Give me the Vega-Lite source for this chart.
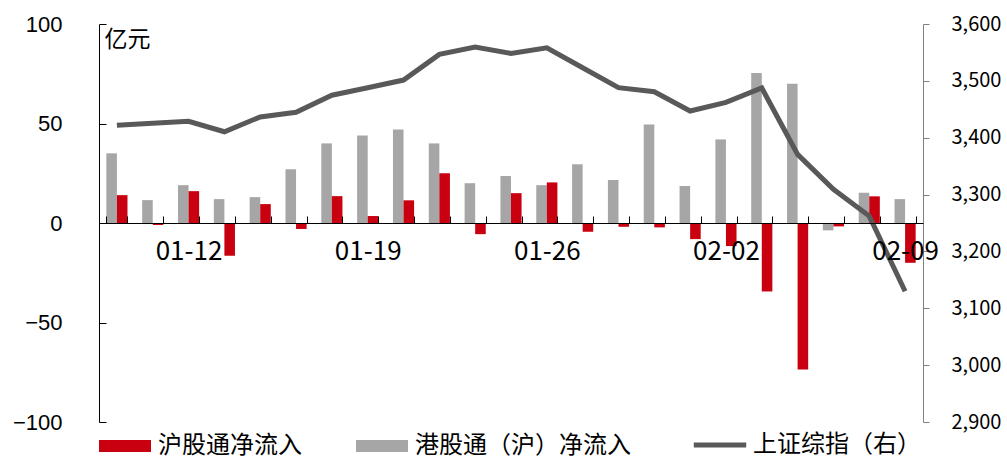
{
  "$schema": "https://vega.github.io/schema/vega-lite/v6.json",
  "width": 824,
  "height": 398,
  "autosize": {"type": "none"},
  "padding": {"left": 99, "top": 24, "right": 84, "bottom": 38},
  "background": "white",
  "config": {
    "view": {"stroke": null},
    "axis": {"grid": false},
    "font": "Liberation Sans"
  },
  "datasets": {
    "flows": [
      {"date": "01-10", "series": "港股通（沪）净流入", "value": 35},
      {"date": "01-10", "series": "沪股通净流入", "value": 14},
      {"date": "01-11", "series": "港股通（沪）净流入", "value": 11.5},
      {"date": "01-11", "series": "沪股通净流入", "value": -1},
      {"date": "01-12", "series": "港股通（沪）净流入", "value": 19},
      {"date": "01-12", "series": "沪股通净流入", "value": 16},
      {"date": "01-15", "series": "港股通（沪）净流入", "value": 12},
      {"date": "01-15", "series": "沪股通净流入", "value": -16.5},
      {"date": "01-16", "series": "港股通（沪）净流入", "value": 13},
      {"date": "01-16", "series": "沪股通净流入", "value": 9.5},
      {"date": "01-17", "series": "港股通（沪）净流入", "value": 27},
      {"date": "01-17", "series": "沪股通净流入", "value": -3},
      {"date": "01-18", "series": "港股通（沪）净流入", "value": 40},
      {"date": "01-18", "series": "沪股通净流入", "value": 13.5},
      {"date": "01-19", "series": "港股通（沪）净流入", "value": 44},
      {"date": "01-19", "series": "沪股通净流入", "value": 3.5},
      {"date": "01-22", "series": "港股通（沪）净流入", "value": 47},
      {"date": "01-22", "series": "沪股通净流入", "value": 11.4},
      {"date": "01-23", "series": "港股通（沪）净流入", "value": 40},
      {"date": "01-23", "series": "沪股通净流入", "value": 25},
      {"date": "01-24", "series": "港股通（沪）净流入", "value": 20},
      {"date": "01-24", "series": "沪股通净流入", "value": -5.6},
      {"date": "01-25", "series": "港股通（沪）净流入", "value": 23.6},
      {"date": "01-25", "series": "沪股通净流入", "value": 15},
      {"date": "01-26", "series": "港股通（沪）净流入", "value": 19},
      {"date": "01-26", "series": "沪股通净流入", "value": 20.4},
      {"date": "01-29", "series": "港股通（沪）净流入", "value": 29.5},
      {"date": "01-29", "series": "沪股通净流入", "value": -4.4},
      {"date": "01-30", "series": "港股通（沪）净流入", "value": 21.6},
      {"date": "01-30", "series": "沪股通净流入", "value": -1.9},
      {"date": "01-31", "series": "港股通（沪）净流入", "value": 49.5},
      {"date": "01-31", "series": "沪股通净流入", "value": -2.2},
      {"date": "02-01", "series": "港股通（沪）净流入", "value": 18.6},
      {"date": "02-01", "series": "沪股通净流入", "value": -8.1},
      {"date": "02-02", "series": "港股通（沪）净流入", "value": 42},
      {"date": "02-02", "series": "沪股通净流入", "value": -11.6},
      {"date": "02-05", "series": "港股通（沪）净流入", "value": 75.4},
      {"date": "02-05", "series": "沪股通净流入", "value": -34.4},
      {"date": "02-06", "series": "港股通（沪）净流入", "value": 70},
      {"date": "02-06", "series": "沪股通净流入", "value": -73.6},
      {"date": "02-07", "series": "港股通（沪）净流入", "value": -3.7},
      {"date": "02-07", "series": "沪股通净流入", "value": -1.7},
      {"date": "02-08", "series": "港股通（沪）净流入", "value": 15.2},
      {"date": "02-08", "series": "沪股通净流入", "value": 13.4},
      {"date": "02-09", "series": "港股通（沪）净流入", "value": 12},
      {"date": "02-09", "series": "沪股通净流入", "value": -20}
    ],
    "sse": [
      {"date": "01-10", "name": "上证综指（右）", "close": 3421.8},
      {"date": "01-11", "name": "上证综指（右）", "close": 3425.3},
      {"date": "01-12", "name": "上证综指（右）", "close": 3428.9},
      {"date": "01-15", "name": "上证综指（右）", "close": 3410.5},
      {"date": "01-16", "name": "上证综指（右）", "close": 3436.6},
      {"date": "01-17", "name": "上证综指（右）", "close": 3444.7},
      {"date": "01-18", "name": "上证综指（右）", "close": 3474.8},
      {"date": "01-19", "name": "上证综指（右）", "close": 3487.9},
      {"date": "01-22", "name": "上证综指（右）", "close": 3501.4},
      {"date": "01-23", "name": "上证综指（右）", "close": 3546.5},
      {"date": "01-24", "name": "上证综指（右）", "close": 3559.5},
      {"date": "01-25", "name": "上证综指（右）", "close": 3548.3},
      {"date": "01-26", "name": "上证综指（右）", "close": 3558.1},
      {"date": "01-29", "name": "上证综指（右）", "close": 3523.0},
      {"date": "01-30", "name": "上证综指（右）", "close": 3488.0},
      {"date": "01-31", "name": "上证综指（右）", "close": 3480.8},
      {"date": "02-01", "name": "上证综指（右）", "close": 3447.0},
      {"date": "02-02", "name": "上证综指（右）", "close": 3462.1},
      {"date": "02-05", "name": "上证综指（右）", "close": 3487.5},
      {"date": "02-06", "name": "上证综指（右）", "close": 3370.7},
      {"date": "02-07", "name": "上证综指（右）", "close": 3309.3},
      {"date": "02-08", "name": "上证综指（右）", "close": 3262.1},
      {"date": "02-09", "name": "上证综指（右）", "close": 3129.9}
    ]
  },
  "layer": [
    {
      "data": {"name": "flows"},
      "mark": {"type": "bar"},
      "encoding": {
        "x": {
          "field": "date",
          "type": "ordinal",
          "sort": null,
          "scale": {"paddingInner": 0.41, "paddingOuter": 0.205},
          "axis": {
            "orient": "bottom",
            "offset": -199,
            "zindex": 1,
            "title": null,
            "domainColor": "#000000",
            "domainWidth": 1,
            "tickColor": "#000000",
            "tickSize": -7,
            "tickBand": "extent",
            "labelAngle": 0,
            "labelExpr": "(datum.value == '01-12' || datum.value == '01-19' || datum.value == '01-26' || datum.value == '02-02' || datum.value == '02-09') ? datum.value : ''",
            "labelFont": "Noto Sans CJK SC",
            "labelFontSize": 26,
            "labelColor": "#000000",
            "labelPadding": 22
          }
        },
        "xOffset": {
          "field": "series",
          "type": "nominal",
          "sort": ["港股通（沪）净流入", "沪股通净流入"]
        },
        "y": {
          "field": "value",
          "type": "quantitative",
          "scale": {"domain": [-100, 100], "nice": false},
          "axis": {
            "orient": "left",
            "values": [-100, -50, 0, 50, 100],
            "domainColor": "#000000",
            "tickColor": "#000000",
            "tickSize": -7,
            "labelPadding": 44,
            "labelFont": "Liberation Sans",
            "labelFontSize": 22,
            "labelColor": "#000000",
            "title": "亿元",
            "titleAngle": 0,
            "titleX": 5,
            "titleY": 4,
            "titleAlign": "left",
            "titleBaseline": "top",
            "titleFont": "Noto Sans CJK SC",
            "titleFontSize": 23,
            "titleFontWeight": "normal",
            "titleColor": "#000000"
          }
        },
        "color": {
          "field": "series",
          "type": "nominal",
          "scale": {
            "domain": ["沪股通净流入", "港股通（沪）净流入"],
            "range": ["#C8000F", "#A6A6A6"]
          },
          "legend": {
            "orient": "none",
            "legendX": 0,
            "legendY": 396,
            "direction": "horizontal",
            "title": null,
            "symbolType": "M-1,-0.23H1V0.23H-1Z",
            "symbolSize": 2704,
            "symbolStrokeWidth": 0,
            "labelFont": "Noto Sans CJK SC",
            "labelFontSize": 24,
            "labelColor": "#000000",
            "labelOffset": 7,
            "columnPadding": 54,
            "labelLimit": 400
          }
        }
      }
    },
    {
      "data": {"name": "sse"},
      "mark": {"type": "line", "strokeWidth": 5},
      "encoding": {
        "x": {"field": "date", "type": "ordinal", "sort": null},
        "y": {
          "field": "close",
          "type": "quantitative",
          "scale": {"domain": [2900, 3600], "nice": false},
          "axis": {
            "orient": "right",
            "values": [2900, 3000, 3100, 3200, 3300, 3400, 3500, 3600],
            "format": ",.0f",
            "domainColor": "#808080",
            "tickColor": "#808080",
            "tickSize": 6,
            "labelPadding": 22,
            "labelFont": "Noto Sans CJK SC",
            "labelFontSize": 20,
            "labelColor": "#000000",
            "title": null
          }
        },
        "stroke": {
          "field": "name",
          "type": "nominal",
          "scale": {"range": ["#595959"]},
          "legend": {
            "orient": "none",
            "legendX": 592,
            "legendY": 392,
            "title": null,
            "symbolType": "stroke",
            "symbolSize": 2750,
            "symbolStrokeWidth": 5,
            "labelFont": "Noto Sans CJK SC",
            "labelFontSize": 24,
            "labelColor": "#000000",
            "labelOffset": 4,
            "labelLimit": 400
          }
        }
      }
    }
  ],
  "resolve": {"scale": {"y": "independent", "color": "independent", "stroke": "independent"}}
}
